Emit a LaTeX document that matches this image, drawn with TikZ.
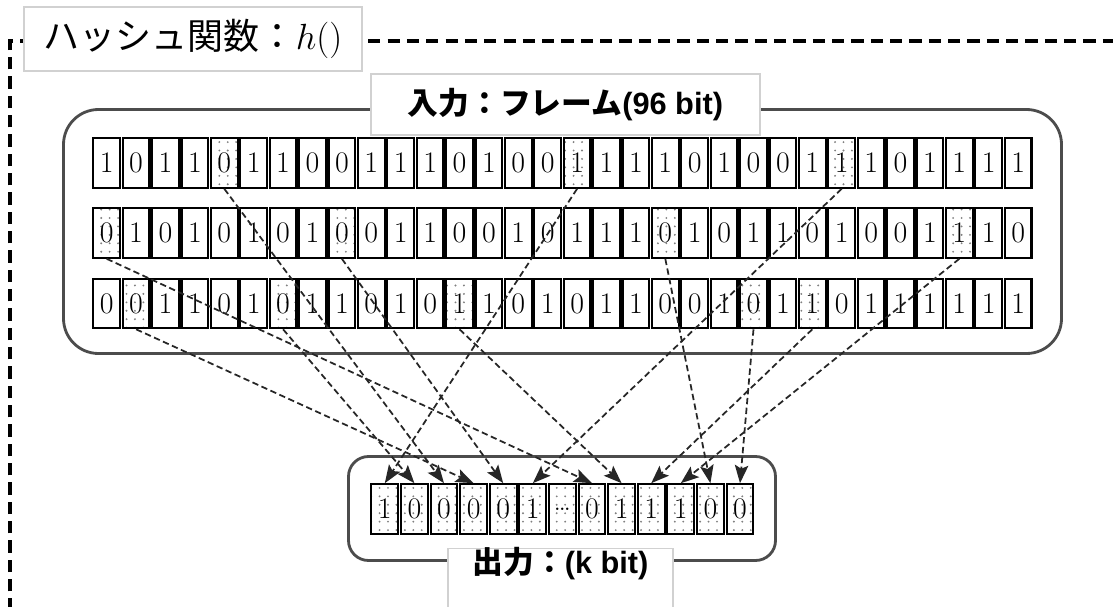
\documentclass[tikz,border=0pt]{standalone}
\usepackage{fontspec}
\setsansfont{Liberation Sans}
\newfontfamily\jpfont{Noto Sans CJK JP}
\usepackage{tikz}
\usetikzlibrary{arrows.meta, patterns.meta}

\begin{document}
\begin{tikzpicture}[
        >={Stealth[length=3.6mm, width=2.7mm, inset=0.7mm]},
        bit/.style={draw, line width=1.2pt, minimum width=0.535cm, minimum height=0.99cm, inner sep=0pt, font=\fontsize{17}{20}\selectfont},
        selbit/.style={bit, pattern={Dots[radius=0.6pt, distance=4.8pt]}, pattern color=gray},
        groupbox/.style={draw=black!70, line width=1.6pt},
        tagbox/.style={draw=black!18, fill=white, line width=0.6pt, inner sep=0pt},
        wire/.style={->, black!85, line width=1pt, dash pattern=on 3.6pt off 2pt},
        hl r1c5/.style={selbit}, hl r1c17/.style={selbit}, hl r1c26/.style={selbit},
        hl r2c1/.style={selbit}, hl r2c9/.style={selbit}, hl r2c20/.style={selbit}, hl r2c30/.style={selbit},
        hl r3c2/.style={selbit}, hl r3c7/.style={selbit}, hl r3c13/.style={selbit}, hl r3c23/.style={selbit}, hl r3c25/.style={selbit}
    ]
    \useasboundingbox (0,0) rectangle (22.26,-12.12);

    % --- Outer dashed frame of the hash function ---
    \draw[line width=1.8pt, dash pattern=on 7pt off 4pt] (0.2,-12.6) -- (0.2,-0.82) -- (22.8,-0.82);

    % --- Input and output groups ---
    \node[groupbox, rounded corners=0.7cm, minimum width=19.96cm, minimum height=4.88cm] (inframe) at (11.25,-4.63) {};
    \node[groupbox, rounded corners=0.4cm, minimum width=8.54cm, minimum height=2.08cm] (outframe) at (11.24,-10.17) {};

    % --- Labels ---
    \node[tagbox, minimum width=6.76cm, minimum height=1.28cm, font=\jpfont\fontsize{20.5}{24}\selectfont] (title) at (3.86,-0.78) {ハッシュ関数：$h()$};
    \node[tagbox, minimum width=7.78cm, minimum height=1.22cm, font=\bfseries\fontsize{17.5}{20}\selectfont] (inlabel) at (11.31,-2.09) {{\jpfont 入力：フレーム}{\sffamily(96 bit)}};
    \node[tagbox, anchor=north, minimum width=4.5cm, inner ysep=0.1cm, text height=0.4cm, text depth=1.2cm, font=\bfseries\fontsize{17.5}{20}\selectfont] (outlabel) at (11.21,-10.96) {{\jpfont 出力：}{\sffamily(k bit)}};

    % --- Input frame: 3 rows of 32 bits ---
    \foreach \b [count=\i] in {1,0,1,1,0,1,1,0,0,1,1,1,0,1,0,0,1,1,1,1,0,1,0,0,1,1,1,0,1,1,1,1}
        \node[bit, hl r1c\i/.try] (r1c\i) at ({2.134+(\i-1)*0.588},-3.26) {\b};
    \foreach \b [count=\i] in {0,1,0,1,0,1,0,1,0,0,1,1,0,0,1,0,1,1,1,0,1,0,1,1,0,1,0,0,1,1,1,0}
        \node[bit, hl r2c\i/.try] (r2c\i) at ({2.134+(\i-1)*0.588},-4.66) {\b};
    \foreach \b [count=\i] in {0,0,1,1,0,1,0,1,1,0,1,0,1,1,0,1,0,1,1,0,0,1,0,1,1,0,1,1,1,1,1,1}
        \node[bit, hl r3c\i/.try] (r3c\i) at ({2.134+(\i-1)*0.588},-6.07) {\b};

    % --- Output: k bits ---
    \foreach \b [count=\i] in {1,0,0,0,0,1,\ldots,0,1,1,1,0,0}
        \node[selbit] (o\i) at ({7.696+(\i-1)*0.592},-10.18) {\b};

    % --- Selected bits to output ---
    \draw[wire] (r1c17.south) -- (o1.north);
    \draw[wire] (r3c7.south) -- (o2.north);
    \draw[wire] (r1c5.south) -- (o3.north);
    \draw[wire] (r3c2.south) -- (o4.north);
    \draw[wire] (r2c9.south) -- (o5.north);
    \draw[wire] (r1c26.south) -- (o6.north);
    \draw[wire] (r2c1.south) -- (o8.north);
    \draw[wire] (r3c13.south) -- (o9.north);
    \draw[wire] (r3c25.south) -- (o10.north);
    \draw[wire] (r2c30.south) -- (o11.north);
    \draw[wire] (r2c20.south) -- (o12.north);
    \draw[wire] (r3c23.south) -- (o13.north);
\end{tikzpicture}
\end{document}
